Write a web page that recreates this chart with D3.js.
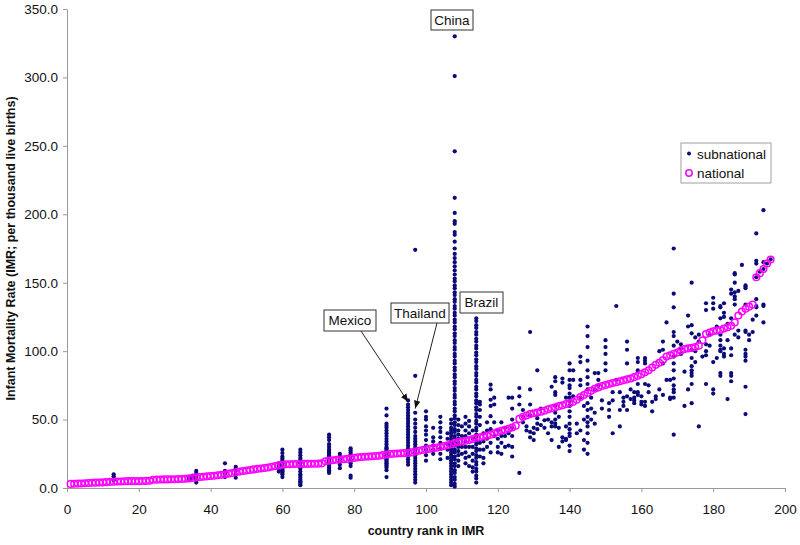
<!DOCTYPE html>
<html>
<head>
<meta charset="utf-8">
<script src="https://cdn.jsdelivr.net/npm/d3@7"></script>
<style>
  body { margin: 0; background: #fff; }
  text { font-family: "Liberation Sans", Arial, sans-serif; }
</style>
</head>
<body>
<svg id="chart" width="800" height="545"></svg>
<script>
// national IMR, one value per country rank 1..196
const nationalIMR = [
  3.0, 3.1, 3.2, 3.3, 3.5, 3.6, 3.8, 3.9, 4.0, 4.1,
  4.3, 4.5, 4.6, 4.7, 4.8, 4.9, 5.0, 5.0, 5.0, 5.0,
  5.1, 5.2, 5.3, 6.0, 6.1, 6.2, 6.3, 6.3, 6.4, 6.4,
  6.5, 6.6, 6.8, 7.0, 7.3, 7.8, 8.0, 8.2, 8.5, 8.8,
  9.0, 9.3, 9.6, 10.0, 10.5, 11.0, 11.5, 12.0, 12.4, 12.8,
  13.2, 13.6, 14.0, 14.3, 14.6, 15.0, 15.5, 16.0, 16.5, 17.0,
  17.3, 17.4, 17.5, 17.5, 17.5, 17.6, 17.6, 17.7, 17.7, 17.8,
  18.0, 19.5, 20.0, 20.3, 20.6, 20.8, 21.0, 21.3, 21.6, 22.0,
  22.4, 22.6, 22.8, 23.0, 23.2, 23.4, 23.6, 24.0, 24.4, 24.8,
  25.0, 25.2, 25.4, 25.5, 25.6, 26.0, 26.6, 27.2, 27.8, 28.2,
  28.6, 29.0, 29.5, 30.0, 30.6, 31.2, 32.0, 33.0, 33.5, 34.0,
  34.5, 35.0, 35.8, 36.5, 37.0, 37.6, 38.2, 39.0, 40.0, 41.0,
  41.8, 42.5, 43.3, 44.2, 45.5, 50.5, 52.0, 53.0, 54.0, 54.6,
  55.2, 55.8, 56.5, 57.5, 58.2, 59.0, 59.8, 60.5, 61.3, 62.0,
  63.0, 64.5, 66.5, 68.0, 69.5, 71.0, 72.5, 73.5, 74.5, 75.2,
  76.0, 76.7, 77.3, 78.0, 78.7, 79.4, 80.0, 81.0, 82.0, 83.2,
  84.5, 86.0, 88.0, 90.0, 91.5, 93.5, 96.0, 97.0, 98.0, 99.0,
  100.5, 101.5, 102.0, 102.5, 103.0, 104.0, 108.0, 112.5, 113.5, 114.5,
  115.0, 115.5, 116.5, 117.5, 118.5, 121.0, 126.0, 129.0, 131.0, 132.5,
  134.0, 154.0, 157.0, 160.0, 164.0, 167.0
];

// subnational IMR, grouped by the rank of their country
const subRanks = [13, 34, 35, 36, 44, 47, 59, 60, 65, 73, 76, 79, 89, 95, 97,
  100, 102, 104, 106, 107, 108, 109, 110, 111, 112, 113, 114, 115, 116, 117,
  118, 119, 120, 121, 122, 123, 124, 126, 127, 128, 129, 130, 131, 132, 133, 134, 135, 136, 137, 138,
  139, 140, 141, 142, 143, 144, 145, 146, 147, 148, 149, 150, 151, 152, 153, 154, 155, 156, 157, 158, 159, 160,
  161, 162, 163, 164, 165, 166, 167, 168, 169, 170, 171, 172, 173, 174, 175, 176, 177, 178, 179, 180, 181, 182,
  183, 184, 185, 186, 187, 188, 189, 190, 191, 192, 193, 194, 195, 196];

const subValues = [
  [10, 8.5, 7, 5.5],
  [8, 6.5],
  [9, 7],
  [12.5, 11, 9, 7.5, 6, 4],
  [18, 12.5, 10.5, 8],
  [15.5, 14, 12.5, 10, 7.5],
  [18, 16, 14, 12],
  [28, 25.5, 23, 21.5, 20, 19, 18, 17, 16, 15, 14, 13, 12, 11, 10, 8],
  [28, 26, 24, 22, 20.5, 19, 18, 16, 15, 14, 12, 10, 9, 7.5, 6, 5, 4, 3, 2],
  [39, 37, 35, 32, 30, 28, 27, 26, 25, 24, 23, 22, 21, 20, 19, 18, 17, 16, 15, 14, 13, 12, 11],
  [25, 23.5, 21, 19, 17, 14.5],
  [29, 27.5, 26, 24.5, 23, 21, 19.5, 18, 16, 9, 7.5],
  [58, 53, 47, 45.5, 44, 42, 40, 38, 36, 34, 32, 30, 29, 28, 27, 26, 25, 24, 23, 22, 21, 20, 19, 18, 17, 16, 15, 13, 8],
  [64, 61, 59, 57, 55, 53, 51, 49, 47, 45, 43, 41, 39, 37, 35, 33, 31, 29, 27, 25, 23, 21, 19, 17],
  [174, 82, 55, 50, 47, 44, 41, 38, 36, 34, 32, 30, 28, 26, 24, 22, 20, 18, 16, 14, 12, 10, 8, 6, 4],
  [56, 52, 50, 45, 42, 39, 35, 31, 28, 24, 20],
  [44, 37, 34, 31, 28, 25],
  [52, 48, 44, 41, 37, 33, 29, 25, 21],
  [40, 36, 32, 28, 22],
  [50, 47, 44, 42, 40, 38, 36, 34, 32, 30, 28, 26, 24, 22, 20, 18, 16, 14, 12, 10, 8, 6, 4, 2],
  [330, 301, 246, 212, 201, 195, 193, 187, 185, 180, 175, 171, 168, 165, 162, 159, 156, 153, 151, 148,
   146, 143, 141, 138, 136, 133, 131, 128, 126, 123, 121, 118, 116, 113, 111, 108, 106, 103, 101, 98,
   96, 93, 91, 88, 86, 83, 81, 78, 76, 73, 71, 68, 66, 63, 61, 58, 56, 53, 51, 48,
   46, 43, 41, 38, 36, 33, 31, 28, 26, 23, 21, 18, 16, 13, 11, 8, 6, 3, 1],
  [50, 46, 42, 39, 36, 33, 30, 27, 24, 20, 16],
  [45, 38, 30, 25],
  [52, 47, 42, 38, 34, 30, 26, 22, 18],
  [49, 45, 40, 30, 23, 16],
  [42, 36, 30, 25, 20, 15, 12],
  [124, 122, 119, 117, 114, 112, 109, 107, 104, 102, 99, 97, 94, 92, 89, 87, 84, 82, 79, 77,
   74, 72, 69, 67, 64, 62, 59, 57, 54, 52, 49, 47, 44, 42, 39, 37, 34, 32, 29, 27,
   24, 22, 19, 17, 14, 12, 9, 7, 4],
  [63, 61, 57, 52, 46, 33, 28, 23],
  [40, 34, 28, 22, 18],
  [48, 42, 36, 30],
  [75.5, 72, 64.5, 60, 52.5, 43, 33, 26],
  [66, 61, 48, 38],
  [42, 36, 30, 26],
  [48, 38, 33, 25],
  [44, 38, 30],
  [66, 40, 31],
  [66, 58, 50, 44, 38, 30, 23],
  [73, 67, 61, 11],
  [57, 52, 48],
  [45, 42],
  [114, 72, 61, 53, 41, 37],
  [44, 40, 35],
  [86, 51, 47, 43],
  [58, 46],
  [49.5, 44],
  [50, 40],
  [74, 48, 45, 35],
  [81, 78, 70, 68, 60, 55, 50, 47, 45],
  [52, 44, 30],
  [80, 77, 37, 34],
  [66, 45, 36, 35],
  [91, 86, 79, 75, 73, 69, 66, 63, 60, 56, 52, 47, 43, 40, 38, 31, 27],
  [86, 79, 67],
  [47, 40],
  [96, 92, 79, 75, 66, 42],
  [60, 50, 35, 28],
  [118, 111, 103, 93, 86, 81, 76, 72, 62, 57, 52, 48, 45, 40, 33, 25],
  [66, 58, 50],
  [84, 72, 55, 47],
  [84, 79, 75],
  [64, 58],
  [108, 103, 98, 91, 86],
  [62, 57, 52],
  [70, 64, 40],
  [133, 79],
  [70, 57, 45],
  [66, 63, 60],
  [107, 101, 91, 67, 57],
  [72, 65],
  [70, 66, 64, 62],
  [95, 92, 86, 76, 70, 68],
  [67, 63, 61],
  [95, 93, 91, 76, 63, 60],
  [75, 70],
  [63, 56],
  [65, 67],
  [100, 72],
  [107, 101, 91, 68],
  [121, 79],
  [79, 66, 65],
  [175, 142, 132, 114, 111, 104, 96, 91, 86, 80, 75, 72, 70, 66, 39],
  [107],
  [105, 102, 98],
  [85, 60],
  [126, 118, 72],
  [150, 119, 113, 101, 95, 89, 86, 84, 82, 76, 62],
  [110, 100, 92],
  [112, 107, 45],
  [96],
  [135, 130, 105, 100, 97, 76],
  [112, 104],
  [139, 135, 131, 92, 72, 69],
  [118, 95],
  [133, 132, 124, 112, 108, 104, 101, 100, 84, 82],
  [135, 128, 125, 102, 98, 96],
  [120, 108, 65],
  [145, 142, 124, 102, 97, 84, 82, 78],
  [157, 156, 150, 143, 140, 138, 134, 112],
  [144, 115, 110],
  [163],
  [148, 147, 146, 134, 115, 114, 101, 98, 96, 93, 74, 54],
  [112, 108],
  [123, 114],
  [186, 166, 164, 154, 138, 133, 132, 126],
  [158],
  [203, 165, 160, 134, 133, 121],
  [164],
  [167]
];

const xTicks = [0, 20, 40, 60, 80, 100, 120, 140, 160, 180, 200];
const yTicks = [0, 50, 100, 150, 200, 250, 300, 350];

const national = nationalIMR.map((v, i) => ({ rank: i + 1, imr: v }));
const subnational = subRanks.flatMap((r, i) => subValues[i].map(v => ({ rank: r, imr: v })));

const svg = d3.select("#chart");
const x = d3.scaleLinear().domain([0, 200]).range([67, 785]);
const y = d3.scaleLinear().domain([0, 350]).range([488, 9]);

const axisColor = "#9a9a9a";

const gx = svg.append("g")
    .attr("transform", `translate(0,${y(0)})`)
    .call(d3.axisBottom(x).tickValues(xTicks).tickFormat(d3.format("d")).tickSize(4).tickSizeOuter(0).tickPadding(12));
const gy = svg.append("g")
    .attr("transform", `translate(${x(0)},0)`)
    .call(d3.axisLeft(y).tickValues(yTicks).tickFormat(d3.format(".1f")).tickSize(4).tickSizeOuter(0).tickPadding(5));

[gx, gy].forEach(g => {
    g.select(".domain").attr("stroke", axisColor);
    g.selectAll(".tick line").attr("stroke", axisColor);
    g.selectAll(".tick text").attr("fill", "#111").style("font-size", "13.5px")
        .style("font-family", "'Liberation Sans', Arial, sans-serif");
});

// axis titles
svg.append("text")
    .attr("x", (x(0) + x(200)) / 2)
    .attr("y", 535)
    .attr("text-anchor", "middle")
    .style("font-size", "12.5px")
    .style("font-weight", "bold")
    .attr("fill", "#111")
    .text("country rank in IMR");

svg.append("text")
    .attr("transform", `translate(15,${(y(0) + y(350)) / 2}) rotate(-90)`)
    .attr("text-anchor", "middle")
    .style("font-size", "12.5px")
    .style("font-weight", "bold")
    .attr("fill", "#111")
    .text("Infant Mortality Rate (IMR; per thousand live births)");

const navy = "#0a0a78";
const magenta = "#ff00ff";

svg.append("g").selectAll("circle")
    .data(subnational)
    .enter()
    .append("circle")
    .attr("cx", d => x(d.rank))
    .attr("cy", d => y(d.imr))
    .attr("r", 2.1)
    .attr("fill", navy);

svg.append("g").selectAll("circle")
    .data(national)
    .enter()
    .append("circle")
    .attr("cx", d => x(d.rank))
    .attr("cy", d => y(d.imr))
    .attr("r", 3.3)
    .attr("fill", "none")
    .attr("stroke", magenta)
    .attr("stroke-width", 1.5);

// legend
const lg = svg.append("g").attr("transform", "translate(681,143)");
lg.append("rect").attr("width", 90).attr("height", 40)
    .attr("fill", "#fff").attr("stroke", "#888").attr("stroke-width", 0.8);
lg.append("circle").attr("cx", 8).attr("cy", 10.5).attr("r", 2).attr("fill", navy);
lg.append("circle").attr("cx", 8).attr("cy", 30).attr("r", 3.2).attr("fill", "none")
    .attr("stroke", magenta).attr("stroke-width", 1.5);
lg.append("text").attr("x", 16).attr("y", 15.5).style("font-size", "13.5px").attr("fill", "#111").text("subnational");
lg.append("text").attr("x", 16).attr("y", 35).style("font-size", "13.5px").attr("fill", "#111").text("national");

// country call-outs
svg.append("defs").append("marker")
    .attr("id", "arrow")
    .attr("viewBox", "0 0 10 10")
    .attr("refX", 10).attr("refY", 5)
    .attr("markerWidth", 8).attr("markerHeight", 8)
    .attr("orient", "auto")
    .append("path").attr("d", "M0,1 L10,5 L0,9 z").attr("fill", "#111");

const callouts = [
    { name: "China", box: [431, 10, 42, 20] },
    { name: "Mexico", box: [324, 310, 52, 21], from: [361, 331], to: [95, 63] },
    { name: "Thailand", box: [391, 303, 58, 20], from: [437, 323], to: [97, 58] },
    { name: "Brazil", box: [460, 292, 43, 21] }
];

callouts.forEach(c => {
    const [bx, by, bw, bh] = c.box;
    if (c.from) {
        svg.append("line")
            .attr("x1", c.from[0]).attr("y1", c.from[1])
            .attr("x2", x(c.to[0])).attr("y2", y(c.to[1]))
            .attr("stroke", "#222").attr("stroke-width", 1)
            .attr("marker-end", "url(#arrow)");
    }
    svg.append("rect").attr("x", bx).attr("y", by).attr("width", bw).attr("height", bh)
        .attr("fill", "#fff").attr("stroke", "#333").attr("stroke-width", 1);
    svg.append("text").attr("x", bx + bw / 2).attr("y", by + bh / 2 + 4.5)
        .attr("text-anchor", "middle").style("font-size", "13.5px").attr("fill", "#111")
        .text(c.name);
});
</script>
</body>
</html>
